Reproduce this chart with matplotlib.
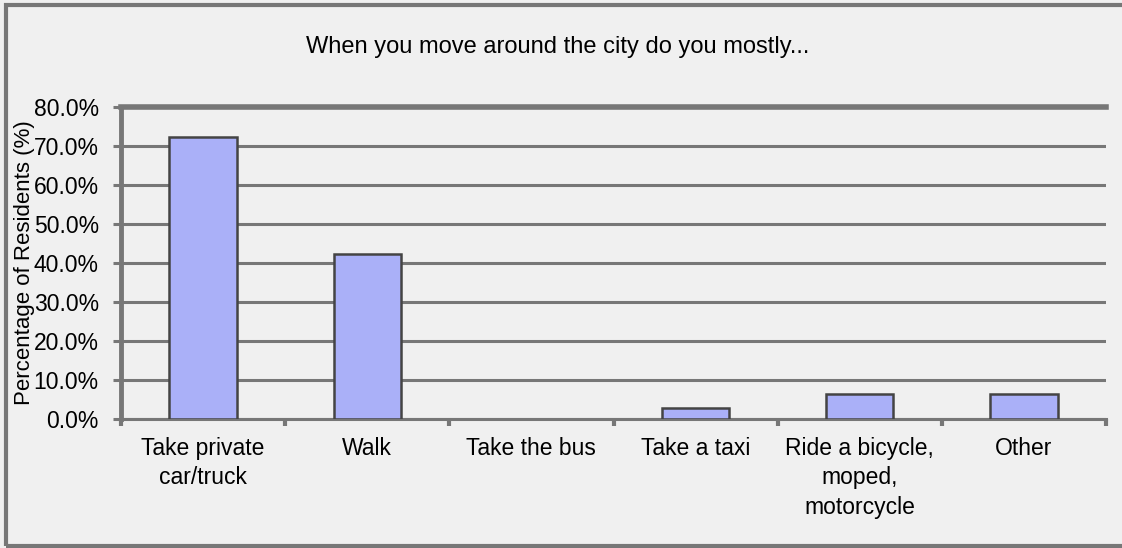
import matplotlib.pyplot as plt
import numpy as np
from matplotlib.patches import Rectangle
from matplotlib.ticker import PercentFormatter

plt.rcParams['font.family'] = ['Liberation Sans', 'DejaVu Sans']

categories = ["Take private\ncar/truck", "Walk", "Take the bus", "Take a taxi",
              "Ride a bicycle,\nmoped,\nmotorcycle", "Other"]
values = [72.3, 42.3, 0.0, 2.9, 6.4, 6.4]
yticks = [0, 10, 20, 30, 40, 50, 60, 70, 80]

BG = "#f0f0f0"
GRID = "#777777"

fig = plt.figure(figsize=(11.22, 5.48), dpi=100, facecolor=BG)
ax = fig.add_axes([121 / 1122, 1 - 419 / 548, 985 / 1122, 312 / 548])
ax.set_facecolor(BG)

x = np.arange(len(categories))
edge_w = [1.8 if v > 0 else 0 for v in values]
ax.bar(x, values, width=0.41, color="#aab0f8", edgecolor="#444444",
       linewidth=edge_w, zorder=3)

ax.set_xlim(-0.5, len(categories) - 0.5)
ax.set_ylim(0, 80)
ax.set_yticks(yticks)
ax.yaxis.set_major_formatter(PercentFormatter(decimals=1))
ax.yaxis.grid(True, color=GRID, linewidth=2.2)
ax.set_axisbelow(True)

ax.set_xticks(x)
ax.set_xticklabels(categories, fontsize=16.5, linespacing=1.35)
ax.set_xticks(np.arange(len(categories) + 1) - 0.5, minor=True)
ax.tick_params(axis="x", which="major", length=0, pad=13)
ax.tick_params(axis="x", which="minor", length=5, width=3, color=GRID)
ax.tick_params(axis="y", length=6, width=2.2, color=GRID, labelsize=16.5, pad=10)

ax.spines["right"].set_visible(False)
ax.spines["top"].set_color(GRID)
ax.spines["top"].set_linewidth(4)
ax.spines["left"].set_color(GRID)
ax.spines["left"].set_linewidth(3.5)
ax.spines["bottom"].set_color(GRID)
ax.spines["bottom"].set_linewidth(2.2)

ax.set_ylabel("Percentage of Residents (%)", fontsize=16)
ax.yaxis.set_label_coords(-0.087, 0.5)

fig.text(0.497, 1 - 47 / 548, "When you move around the city do you mostly...",
         ha="center", va="center", fontsize=17)

fig.patches.append(Rectangle((6 / 1122, 2 / 548), 1.2, 1 - 7 / 548,
                             transform=fig.transFigure, fill=False,
                             edgecolor=GRID, linewidth=3))

fig.savefig("out.png", dpi=100, facecolor=BG)
